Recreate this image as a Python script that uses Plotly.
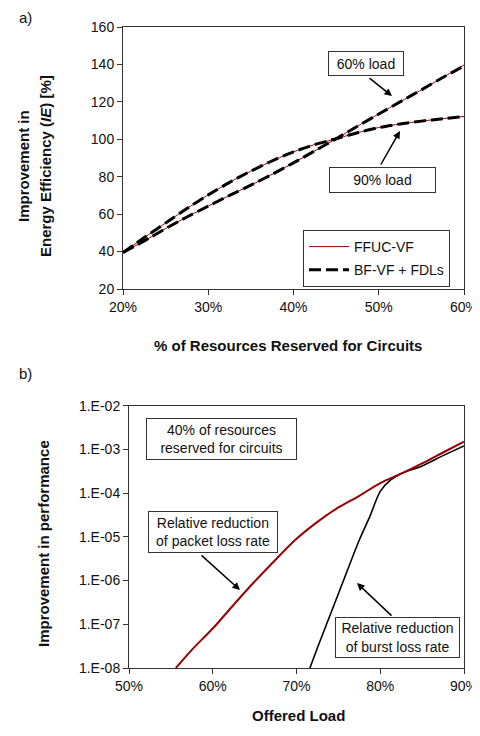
import plotly.graph_objects as go

# ---------------- data ----------------
# (a) Improvement in energy efficiency vs % of resources reserved for circuits
res_pct = [0.20, 0.225, 0.25, 0.275, 0.30, 0.325, 0.35, 0.375, 0.40,
           0.425, 0.45, 0.475, 0.50, 0.525, 0.55, 0.575, 0.60]
ffuc_60 = [39.5, 45.7, 52.3, 58.5, 64.3, 70, 75.5, 81.3, 87.4,
           93.8, 100.3, 107, 113.5, 120, 126.4, 133, 139.7]
bf_60 = [39.5, 45.7, 52.3, 58.5, 64.3, 70, 75.5, 81.3, 87.4,
         93.8, 100.3, 107, 113.5, 120, 126.4, 133, 139.2]
ffuc_90 = [39.5, 47.5, 55.3, 63, 70.3, 77, 83, 88.5, 93.3,
           97.2, 100.3, 103.5, 106.3, 108.2, 109.7, 111, 112.2]
bf_90 = [39.5, 47.5, 55.3, 63, 70.3, 77, 83, 88.5, 93.3,
         97.2, 100.3, 103.5, 106.3, 108.2, 109.7, 111, 112.2]

x_ticks_a = [0.2, 0.3, 0.4, 0.5, 0.6]
x_ticktext_a = ["20%", "30%", "40%", "50%", "60%"]
y_ticks_a = [20, 40, 60, 80, 100, 120, 140, 160]

# (b) Improvement in performance vs offered load
load_packet = [0.556, 0.575, 0.60, 0.625, 0.65, 0.675, 0.70, 0.725, 0.75,
               0.775, 0.80, 0.825, 0.85, 0.875, 0.90]
packet_red = [1e-8, 2.6e-8, 8e-8, 2.8e-7, 9.5e-7, 3e-6, 9e-6, 2.2e-5, 4.7e-5,
              8.7e-5, 1.7e-4, 2.8e-4, 4.8e-4, 8.5e-4, 1.5e-3]
load_burst = [0.716, 0.725, 0.75, 0.775, 0.7875, 0.80, 0.8125, 0.825, 0.85,
              0.875, 0.90]
burst_red = [1e-8, 2.9e-8, 5e-7, 8.5e-6, 2.9e-5, 1.1e-4, 2.0e-4, 2.8e-4, 4.2e-4,
             7.2e-4, 1.2e-3]

x_ticks_b = [0.5, 0.6, 0.7, 0.8, 0.9]
x_ticktext_b = ["50%", "60%", "70%", "80%", "90%"]
y_ticks_b = [1e-8, 1e-7, 1e-6, 1e-5, 1e-4, 1e-3, 1e-2]
y_ticktext_b = ["1.E-08", "1.E-07", "1.E-06", "1.E-05", "1.E-04", "1.E-03", "1.E-02"]

# ---------------- figure ----------------
OFF = 8  # page body margin
W, H = 480 - OFF, 736 - OFF
FONT = "Liberation Sans, Arial, sans-serif"
RED = "#990000"


def px(x):
    return (x - OFF) / W


def py(y):
    return 1 - (y - OFF) / H


fig = go.Figure()

# top chart
fig.add_trace(go.Scatter(x=res_pct, y=ffuc_60, mode="lines", name="FFUC-VF",
                         line=dict(color=RED, width=1, shape="spline", smoothing=0.5),
                         xaxis="x", yaxis="y", legendgroup="ffuc"))
fig.add_trace(go.Scatter(x=res_pct, y=ffuc_90, mode="lines", name="FFUC-VF",
                         line=dict(color=RED, width=1, shape="spline", smoothing=0.5),
                         xaxis="x", yaxis="y", legendgroup="ffuc", showlegend=False))
fig.add_trace(go.Scatter(x=res_pct, y=bf_60, mode="lines", name="BF-VF + FDLs",
                         line=dict(color="black", width=3, dash="12px,5px",
                                   shape="spline", smoothing=0.5),
                         xaxis="x", yaxis="y", legendgroup="bf"))
fig.add_trace(go.Scatter(x=res_pct, y=bf_90, mode="lines", name="BF-VF + FDLs",
                         line=dict(color="black", width=3, dash="12px,5px",
                                   shape="spline", smoothing=0.5),
                         xaxis="x", yaxis="y", legendgroup="bf", showlegend=False))

# bottom chart
fig.add_trace(go.Scatter(x=load_burst, y=burst_red, mode="lines",
                         line=dict(color="black", width=1.6, shape="spline", smoothing=0.8),
                         xaxis="x2", yaxis="y2", showlegend=False))
fig.add_trace(go.Scatter(x=load_packet, y=packet_red, mode="lines",
                         line=dict(color=RED, width=2, shape="spline", smoothing=0.8),
                         xaxis="x2", yaxis="y2", showlegend=False))

axis_common = dict(showgrid=False, zeroline=False, showline=True, linecolor="#333",
                   linewidth=1, mirror=True, ticks="outside", ticklen=5,
                   tickcolor="#333", automargin=False,
                   tickfont=dict(family=FONT, size=14, color="#111"))

fig.update_layout(
    width=W, height=H, autosize=False,
    margin=dict(l=0, r=0, t=0, b=0, pad=0, autoexpand=False),
    paper_bgcolor="white", plot_bgcolor="white",
    font=dict(family=FONT, size=14, color="#111"),
    xaxis=dict(domain=[px(123), px(464)], anchor="y", range=[0.2, 0.6],
               tickvals=x_ticks_a, ticktext=x_ticktext_a, **axis_common),
    yaxis=dict(domain=[py(289), py(27)], anchor="x", range=[20, 160],
               tickvals=y_ticks_a, **axis_common),
    xaxis2=dict(domain=[px(129), px(464)], anchor="y2", range=[0.5, 0.9],
                tickvals=x_ticks_b, ticktext=x_ticktext_b, **axis_common),
    yaxis2=dict(domain=[py(668), py(405.7)], anchor="x2", type="log", range=[-8, -2],
                tickvals=y_ticks_b, ticktext=y_ticktext_b, **axis_common),
    legend=dict(x=px(303), y=py(230), xanchor="left", yanchor="top",
                bordercolor="#333", borderwidth=1, bgcolor="white",
                font=dict(family=FONT, size=14, color="#111"),
                itemwidth=40, tracegroupgap=2),
    showlegend=True,
)

ann = []


def text(x, y, s, size=14, bold=False, angle=0):
    if bold:
        s = "<b>" + s + "</b>"
    ann.append(dict(x=px(x), y=py(y), xref="paper", yref="paper", text=s,
                    showarrow=False, textangle=angle,
                    font=dict(family=FONT, size=size, color="#111"),
                    xanchor="center", yanchor="middle"))


def box(x0, y0, x1, y1, s):
    ann.append(dict(x=px((x0 + x1) / 2), y=py((y0 + y1) / 2), xref="paper", yref="paper",
                    text=s, showarrow=False, width=x1 - x0 - 4, height=y1 - y0 - 4,
                    bordercolor="#333", borderwidth=1, borderpad=1, bgcolor="white",
                    font=dict(family=FONT, size=14, color="#111"),
                    xanchor="center", yanchor="middle", align="center"))


def arrow(tx, ty, hx, hy):
    ann.append(dict(x=px(hx), y=py(hy), xref="paper", yref="paper", text="",
                    showarrow=True, ax=tx - hx, ay=ty - hy, axref="pixel", ayref="pixel",
                    arrowhead=2, arrowsize=1, arrowwidth=1.5, arrowcolor="black"))


text(25, 18, "a)", size=15)
text(25, 373, "b)", size=15)
text(23, 166, "Improvement in", size=15, bold=True, angle=-90)
text(45, 166, "Energy Efficiency (<i>IE</i>) [%]", size=15, bold=True, angle=-90)
text(288, 345, "% of Resources Reserved for Circuits", size=15, bold=True)
text(43, 544, "Improvement in performance", size=15, bold=True, angle=-90)
text(298, 715, "Offered Load", size=15, bold=True)

box(328, 51, 404, 76, "60% load")
box(329, 167, 436, 193, "90% load")
box(146, 418, 297, 460, "40% of resources<br>reserved for circuits")
box(148, 511, 278, 553, "Relative reduction<br>of packet loss rate")
box(335, 617, 460, 658, "Relative reduction<br>of burst loss rate")

arrow(368, 77, 392, 96)
arrow(380, 166, 400, 131)
arrow(200, 554, 240, 590)
arrow(393, 617, 357, 583)

fig.update_layout(annotations=ann)

fig.write_html("out.html")
